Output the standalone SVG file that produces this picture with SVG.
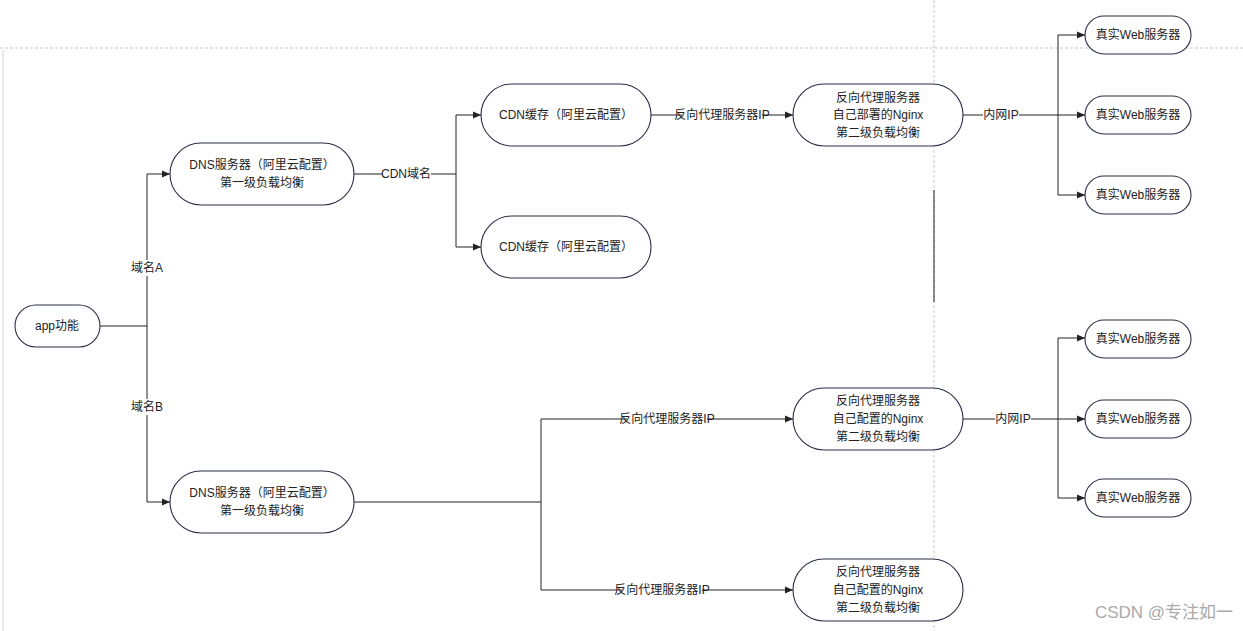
<svg xmlns="http://www.w3.org/2000/svg" width="1243" height="631" viewBox="0 0 1243 631">
<style>
.n{fill:#fff;stroke:#2a2f45;stroke-width:1.1}
.t{font-family:"Liberation Sans","Noto Sans CJK SC",sans-serif;font-size:12px;fill:#222;text-anchor:middle;dominant-baseline:central}
.c{fill:none;stroke:#222;stroke-width:1}
.lb{font-family:"Liberation Sans","Noto Sans CJK SC",sans-serif;font-size:12px;fill:#222;text-anchor:middle;dominant-baseline:central}
.bg{fill:#fff}
.g{stroke:#c8c8c8;stroke-width:1;stroke-dasharray:3,2;fill:none}
</style>
<defs>
<marker id="a" viewBox="0 0 8 8" refX="8" refY="4" markerWidth="8" markerHeight="8" markerUnits="userSpaceOnUse" orient="auto">
<path d="M0,0.5 L8,4 L0,7.5 Z" fill="#222"/>
</marker>
</defs>
<rect x="0" y="0" width="1243" height="631" fill="#fff"/>
<g id="guides">
<line x1="3" y1="50" x2="3" y2="631" stroke="#e0e0e0" stroke-width="1.5"/>
<line class="g" x1="0" y1="48" x2="1243" y2="48"/>
<line class="g" x1="934" y1="0" x2="934" y2="631"/>
<line x1="934" y1="190" x2="934" y2="302" stroke="#222" stroke-width="1"/>
</g>
<g id="connectors">
<path class="c" d="M100,326 H147"/>
<path class="c" d="M147,326 V174 H170" marker-end="url(#a)"/>
<path class="c" d="M147,326 V502 H170" marker-end="url(#a)"/>
<path class="c" d="M354,174 H456"/>
<path class="c" d="M456,174 V115 H481" marker-end="url(#a)"/>
<path class="c" d="M456,174 V247 H481" marker-end="url(#a)"/>
<path class="c" d="M651,115 H793" marker-end="url(#a)"/>
<path class="c" d="M963,115 H1058"/>
<path class="c" d="M1058,115 V35 H1085" marker-end="url(#a)"/>
<path class="c" d="M1058,115 H1085" marker-end="url(#a)"/>
<path class="c" d="M1058,115 V195 H1085" marker-end="url(#a)"/>
<path class="c" d="M354,502 H541"/>
<path class="c" d="M541,502 V419 H793" marker-end="url(#a)"/>
<path class="c" d="M541,502 V590 H793" marker-end="url(#a)"/>
<path class="c" d="M963,419 H1058"/>
<path class="c" d="M1058,419 V338 H1085" marker-end="url(#a)"/>
<path class="c" d="M1058,419 H1085" marker-end="url(#a)"/>
<path class="c" d="M1058,419 V498 H1085" marker-end="url(#a)"/>
<rect class="bg" x="129" y="260" width="36" height="16"/><text class="lb" x="147" y="268">域名A</text>
<rect class="bg" x="129" y="399" width="36" height="16"/><text class="lb" x="147" y="407">域名B</text>
<rect class="bg" x="382" y="166" width="49" height="16"/><text class="lb" x="406" y="174">CDN域名</text>
<rect class="bg" x="682" y="107" width="80" height="16"/><text class="lb" x="722" y="115">反向代理服务器IP</text>
<rect class="bg" x="983" y="107" width="36" height="16"/><text class="lb" x="1001" y="115">内网IP</text>
<rect class="bg" x="627" y="411" width="80" height="16"/><text class="lb" x="667" y="419">反向代理服务器IP</text>
<rect class="bg" x="622" y="582" width="80" height="16"/><text class="lb" x="662" y="590">反向代理服务器IP</text>
<rect class="bg" x="995" y="411" width="36" height="16"/><text class="lb" x="1013" y="419">内网IP</text>
</g>
<g id="app"><rect class="n" x="15" y="305" width="85" height="42" rx="21"/><text class="t" x="57" y="326">app功能</text></g>
<g id="dns1"><rect class="n" x="170" y="143" width="184" height="62" rx="31"/><text class="t" x="262" y="165">DNS服务器（阿里云配置）</text><text class="t" x="262" y="183">第一级负载均衡</text></g>
<g id="cdn1"><rect class="n" x="481" y="84" width="170" height="62" rx="31"/><text class="t" x="566" y="115">CDN缓存（阿里云配置）</text></g>
<g id="cdn2"><rect class="n" x="481" y="216" width="170" height="62" rx="31"/><text class="t" x="566" y="247">CDN缓存（阿里云配置）</text></g>
<g id="proxy1"><rect class="n" x="793" y="84" width="170" height="62" rx="31"/><text class="t" x="878" y="98">反向代理服务器</text><text class="t" x="878" y="115">自己部署的Nginx</text><text class="t" x="878" y="133">第二级负载均衡</text></g>
<g id="web1"><rect class="n" x="1085" y="16" width="106" height="38" rx="19"/><text class="t" x="1138" y="35">真实Web服务器</text></g>
<g id="web2"><rect class="n" x="1085" y="96" width="106" height="38" rx="19"/><text class="t" x="1138" y="115">真实Web服务器</text></g>
<g id="web3"><rect class="n" x="1085" y="176" width="106" height="38" rx="19"/><text class="t" x="1138" y="195">真实Web服务器</text></g>
<g id="dns2"><rect class="n" x="170" y="471" width="184" height="62" rx="31"/><text class="t" x="262" y="493">DNS服务器（阿里云配置）</text><text class="t" x="262" y="511">第一级负载均衡</text></g>
<g id="proxy2"><rect class="n" x="793" y="388" width="170" height="62" rx="31"/><text class="t" x="878" y="401">反向代理服务器</text><text class="t" x="878" y="419">自己配置的Nginx</text><text class="t" x="878" y="437">第二级负载均衡</text></g>
<g id="web4"><rect class="n" x="1085" y="320" width="106" height="38" rx="19"/><text class="t" x="1138" y="339">真实Web服务器</text></g>
<g id="web5"><rect class="n" x="1085" y="400" width="106" height="38" rx="19"/><text class="t" x="1138" y="419">真实Web服务器</text></g>
<g id="web6"><rect class="n" x="1085" y="479" width="106" height="38" rx="19"/><text class="t" x="1138" y="498">真实Web服务器</text></g>
<g id="proxy3"><rect class="n" x="793" y="559" width="170" height="62" rx="31"/><text class="t" x="878" y="572">反向代理服务器</text><text class="t" x="878" y="590">自己配置的Nginx</text><text class="t" x="878" y="608">第二级负载均衡</text></g>
<text x="1164" y="612" font-family="Liberation Sans,Noto Sans CJK SC,sans-serif" font-size="17" fill="#aaa" text-anchor="middle" dominant-baseline="central">CSDN @专注如一</text>
</svg>
